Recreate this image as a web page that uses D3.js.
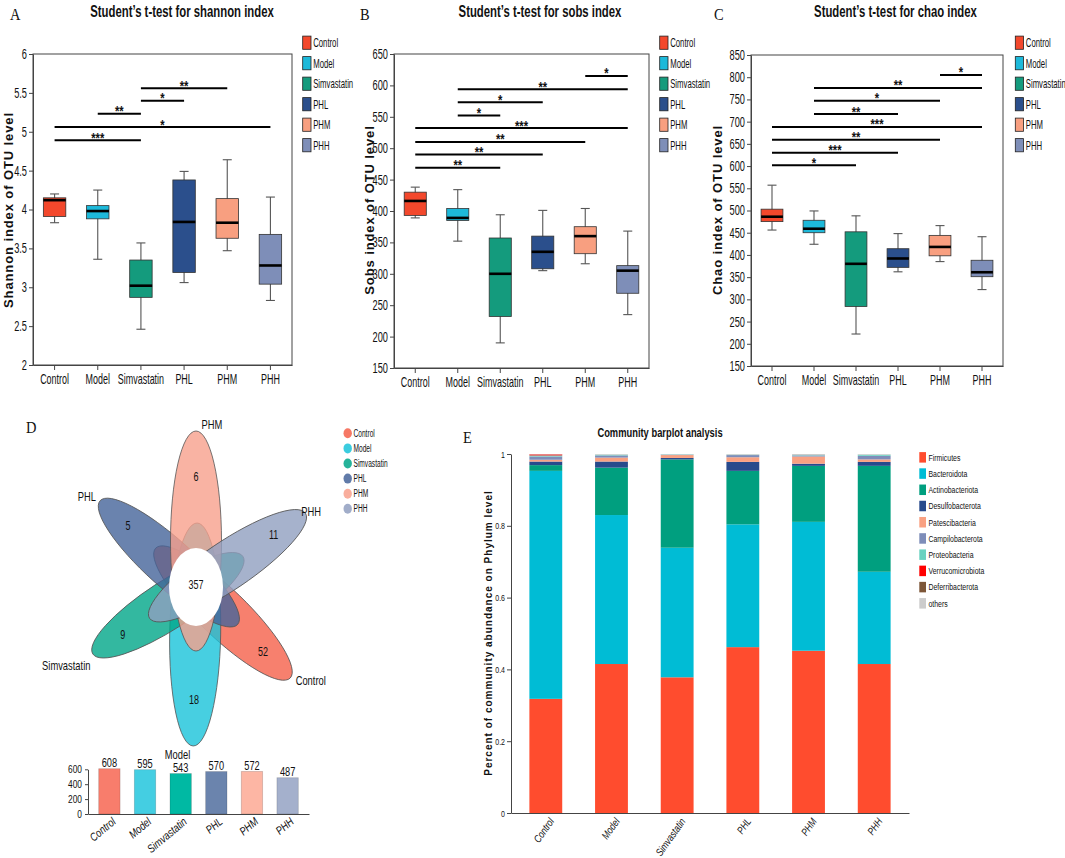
<!DOCTYPE html>
<html>
<head>
<meta charset="utf-8">
<script src="https://cdn.jsdelivr.net/npm/d3@7"></script>
<style>
  body { margin: 0; background: #fff; }
</style>
</head>
<body>
<script>
// ---- data ----
const groups = ["Control", "Model", "Simvastatin", "PHL", "PHM", "PHH"];

// box stats per group: [min, q1, median, q3, max]
const shannonStats = [
  [3.83, 3.91, 4.12, 4.15, 4.20],
  [3.36, 3.88, 3.98, 4.05, 4.25],
  [2.46, 2.87, 3.02, 3.35, 3.57],
  [3.06, 3.19, 3.84, 4.38, 4.49],
  [3.47, 3.63, 3.83, 4.14, 4.64],
  [2.83, 3.04, 3.28, 3.68, 4.16]
];
const sobsStats = [
  [389, 393, 416, 430, 438],
  [352, 385, 389, 404, 434],
  [190, 232, 300, 357, 394],
  [305, 308, 335, 360, 401],
  [316, 332, 360, 375, 404],
  [235, 269, 305, 313, 368]
];
const chaoStats = [
  [456, 475, 486, 503, 557],
  [424, 450, 459, 478, 499],
  [222, 284, 380, 452, 488],
  [362, 372, 392, 414, 448],
  [385, 398, 418, 444, 466],
  [322, 351, 361, 388, 441]
];

// significance brackets: [from group, to group, bar level, stars]
const shannonSig = [[2, 4, 5.56, "**"], [2, 3, 5.40, "*"], [1, 2, 5.23, "**"], [0, 5, 5.06, "*"], [0, 2, 4.89, "***"]];
const sobsSig = [[4, 5, 615, "*"], [1, 5, 594, "**"], [1, 3, 573, "*"], [1, 2, 552, "*"],
                 [0, 5, 532, "***"], [0, 4, 510, "**"], [0, 3, 490, "**"], [0, 2, 469, "**"]];
const chaoSig = [[4, 5, 805, "*"], [1, 5, 776, "**"], [1, 4, 747, "*"], [1, 3, 717, "**"],
                 [0, 5, 688, "***"], [0, 4, 659, "**"], [0, 3, 630, "***"], [0, 2, 602, "*"]];

const shannonTicks = [2, 2.5, 3, 3.5, 4, 4.5, 5, 5.5, 6];
const sobsTicks = [150, 200, 250, 300, 350, 400, 450, 500, 550, 600, 650];
const chaoTicks = [150, 200, 250, 300, 350, 400, 450, 500, 550, 600, 650, 700, 750, 800, 850];

// venn (order as groups)
const vennUnique = [52, 18, 9, 5, 6, 11];
const vennCore = 357;
const otuTotals = [608, 595, 543, 570, 572, 487];
const otuTicks = [0, 200, 400, 600];

// phylum level community
const phyla = ["Firmicutes", "Bacteroidota", "Actinobacteriota", "Desulfobacterota", "Patescibacteria",
               "Campilobacterota", "Proteobacteria", "Verrucomicrobiota", "Deferribacterota", "others"];
const phylumAbundance = [
  [0.318, 0.415, 0.378, 0.462, 0.452, 0.415],
  [0.635, 0.415, 0.361, 0.342, 0.359, 0.257],
  [0.016, 0.132, 0.246, 0.149, 0.156, 0.295],
  [0.010, 0.017, 0.004, 0.025, 0.006, 0.011],
  [0.005, 0.011, 0.008, 0.013, 0.020, 0.007],
  [0.009, 0.006, 0.001, 0.006, 0.003, 0.010],
  [0.003, 0.002, 0.001, 0.001, 0.001, 0.003],
  [0.003, 0.000, 0.000, 0.000, 0.000, 0.000],
  [0.000, 0.000, 0.000, 0.000, 0.000, 0.000],
  [0.001, 0.002, 0.001, 0.002, 0.003, 0.002]
];
const shareTicks = [0, 0.2, 0.4, 0.6, 0.8, 1];

// ---- styles ----
const SANS = "'Liberation Sans', Arial, sans-serif";
const SERIF = "'Liberation Serif', 'Times New Roman', serif";
const boxColors = ["#F3482C", "#1DB9DA", "#149B7D", "#2B4F8C", "#F89F80", "#7E8EB8"];
const vennColors = ["#F5604A", "#19C3D9", "#00A688", "#45649A", "#F8A08C", "#909FBF"];
const otuColors = ["#F87D6C", "#44CEE2", "#00B9A3", "#6B84AD", "#FDB6A4", "#A4B0CC"];
const phylumColors = ["#FF4C2E", "#00BCD5", "#009F7F", "#274A8C", "#F9A182",
                      "#7E8DB9", "#69D2C1", "#FF0000", "#7D5638", "#CCCCCC"];

const svg = d3.select("body").append("svg")
  .attr("width", 1065).attr("height", 858);

function txt(g, s, x, y, o) {
  o = o || {};
  let tr = `translate(${x},${y})`;
  if (o.rot) tr += ` rotate(${o.rot})`;
  tr += ` scale(${o.sx || 1},1)`;
  const t = g.append("text").text(s)
    .attr("transform", tr)
    .attr("font-family", o.ff || SANS)
    .attr("font-size", o.fs || 12)
    .attr("text-anchor", o.anchor || "start")
    .attr("fill", o.fill || "#111");
  if (o.fw) t.attr("font-weight", o.fw);
  if (o.style) t.attr("font-style", o.style);
  if (o.ls) t.attr("letter-spacing", o.ls);
  return t;
}

// squeeze axis labels horizontally like the source figure
function styleAxis(ag, fs, sx, extra) {
  ag.select(".domain").attr("stroke", "#444");
  ag.selectAll(".tick line").attr("stroke", "#444");
  ag.selectAll("text").each(function () {
    const t = d3.select(this);
    const x = +t.attr("x") || 0, y = +t.attr("y") || 0;
    t.attr("x", 0).attr("y", 0)
      .attr("transform", `translate(${x},${y}) ${extra || ""} scale(${sx},1)`);
  }).attr("font-size", fs).attr("font-family", SANS).attr("fill", "#111");
}

// ---- panels A-C ----
const boxPanels = [
  { letter: "A", title: "Student’s t-test for shannon index", ylabel: "Shannon index of OTU level",
    stats: shannonStats, sig: shannonSig, ticks: shannonTicks, x0: 33, x1: 292, y0: 54, y1: 365,
    letterX: 10, titleX: 182, labelX: 12.7, legendX: 302.7 },
  { letter: "B", title: "Student’s t-test for sobs index", ylabel: "Sobs index of OTU level",
    stats: sobsStats, sig: sobsSig, ticks: sobsTicks, x0: 394, x1: 649, y0: 54, y1: 368,
    letterX: 360, titleX: 540, labelX: 374, legendX: 659.7 },
  { letter: "C", title: "Student’s t-test for chao index", ylabel: "Chao index of OTU level",
    stats: chaoStats, sig: chaoSig, ticks: chaoTicks, x0: 751, x1: 1003, y0: 55, y1: 366,
    letterX: 714, titleX: 895.5, labelX: 722, legendX: 1015.3 }
];

boxPanels.forEach(p => {
  const g = svg.append("g");
  const x = d3.scaleBand().domain(groups).range([p.x0, p.x1]);
  const y = d3.scaleLinear().domain(d3.extent(p.ticks)).range([p.y1, p.y0]);
  const cx = i => x(groups[i]) + x.bandwidth() / 2;
  const bw = x.bandwidth() * 0.52, capW = 9;

  txt(g, p.letter, p.letterX, 20, { ff: SERIF, fs: 17, sx: 0.85 });
  txt(g, p.title, p.titleX, 16.7, { fs: 16, fw: "bold", sx: 0.71, anchor: "middle" });
  txt(g, p.ylabel, p.labelX, 210, { rot: -90, fs: 13, fw: "bold", ls: 0.9, anchor: "middle" });

  g.append("rect").attr("x", p.x0).attr("y", p.y0)
    .attr("width", p.x1 - p.x0).attr("height", p.y1 - p.y0)
    .attr("fill", "none").attr("stroke", "#444").attr("stroke-width", 1);

  const ay = g.append("g").attr("transform", `translate(${p.x0},0)`)
    .call(d3.axisLeft(y).tickValues(p.ticks).tickFormat(d => d).tickSize(4).tickPadding(2).tickSizeOuter(0));
  styleAxis(ay, 14, 0.66);
  const ax = g.append("g").attr("transform", `translate(0,${p.y1})`)
    .call(d3.axisBottom(x).tickSize(5).tickPadding(4).tickSizeOuter(0));
  styleAxis(ax, 14, 0.64);

  const boxes = g.selectAll(".bx").data(p.stats).join("g").attr("class", "bx");
  boxes.append("line")
    .attr("x1", (d, i) => cx(i)).attr("x2", (d, i) => cx(i))
    .attr("y1", d => y(d[0])).attr("y2", d => y(d[4]))
    .attr("stroke", "#555").attr("stroke-width", 1.1);
  [0, 4].forEach(k => boxes.append("line")
    .attr("x1", (d, i) => cx(i) - capW / 2).attr("x2", (d, i) => cx(i) + capW / 2)
    .attr("y1", d => y(d[k])).attr("y2", d => y(d[k]))
    .attr("stroke", "#555").attr("stroke-width", 1.1));
  boxes.append("rect")
    .attr("x", (d, i) => cx(i) - bw / 2).attr("width", bw)
    .attr("y", d => y(d[3])).attr("height", d => y(d[1]) - y(d[3]))
    .attr("fill", (d, i) => boxColors[i]).attr("stroke", "#333").attr("stroke-width", 0.8);
  boxes.append("line")
    .attr("x1", (d, i) => cx(i) - bw / 2).attr("x2", (d, i) => cx(i) + bw / 2)
    .attr("y1", d => y(d[2])).attr("y2", d => y(d[2]))
    .attr("stroke", "#000").attr("stroke-width", 2.6);

  p.sig.forEach(([a, b, v, lab]) => {
    g.append("line").attr("x1", cx(a)).attr("x2", cx(b))
      .attr("y1", y(v)).attr("y2", y(v)).attr("stroke", "#000").attr("stroke-width", 2);
    txt(g, lab, (cx(a) + cx(b)) / 2, y(v) + 2.5, { fs: 14, fw: "bold", sx: 0.8, anchor: "middle" });
  });

  groups.forEach((gr, i) => {
    const yc = 42.7 + i * 20.5;
    g.append("rect").attr("x", p.legendX).attr("y", yc - 6.6).attr("width", 8.3).attr("height", 13.2)
      .attr("fill", boxColors[i]).attr("stroke", "#222").attr("stroke-width", 0.8);
    txt(g, gr, p.legendX + 10.5, yc + 4.3, { fs: 12.5, sx: 0.62 });
  });
});

// ---- panel D: flower venn ----
const gD = svg.append("g");
txt(gD, "D", 26, 433, { ff: SERIF, fs: 17, sx: 0.85 });
const vc = [196, 587];
// petal direction (deg, screen, counter-clockwise), tip distance, half width, reach past centre
const petals = [
  { ang: -44, len: 131, b: 24, back: 56, lab: [20.5, 7] },
  { ang: -91, len: 159, b: 25.5, back: 64, lab: [-15.7, 13] },
  { ang: 213, len: 123, b: 24, back: 56, lab: [-26.6, 16] },
  { ang: 138, len: 129, b: 24, back: 56, lab: [-13.3, 0] },
  { ang: 90, len: 156, b: 25.5, back: 64, lab: [16, -2.5] },
  { ang: 34, len: 132, b: 24, back: 56, lab: [5.7, 2.5] }
];
const dir = p => [Math.cos(p.ang * Math.PI / 180), -Math.sin(p.ang * Math.PI / 180)];
gD.selectAll(".petal").data(petals).join("ellipse").attr("class", "petal")
  .attr("rx", p => (p.len + p.back) / 2).attr("ry", p => p.b)
  .attr("transform", p => {
    const a = (p.len + p.back) / 2, d = p.len - a, u = dir(p);
    return `translate(${vc[0] + d * u[0]},${vc[1] + d * u[1]}) rotate(${-p.ang})`;
  })
  .attr("fill", (p, i) => vennColors[i]).attr("fill-opacity", 0.8)
  .attr("stroke", "#555").attr("stroke-width", 0.8);
gD.append("ellipse").attr("cx", vc[0]).attr("cy", vc[1]).attr("rx", 27).attr("ry", 39).attr("fill", "#fff");
txt(gD, vennCore, vc[0], vc[1] + 2, { fs: 12.5, sx: 0.72, anchor: "middle" });
vennUnique.forEach((v, i) => {
  const p = petals[i], u = dir(p), r = p.len * 0.71;
  txt(gD, v, vc[0] + r * u[0], vc[1] + r * u[1] + 4.5, { fs: 12.5, sx: 0.72, anchor: "middle" });
  const tip = [vc[0] + p.len * u[0], vc[1] + p.len * u[1]];
  txt(gD, groups[i], tip[0] + p.lab[0], tip[1] + p.lab[1], { fs: 12, sx: 0.78, anchor: "middle" });
});
groups.forEach((gr, i) => {
  const yc = 433.3 + i * 15.1;
  gD.append("ellipse").attr("cx", 347.7).attr("cy", yc).attr("rx", 4.2).attr("ry", 5)
    .attr("fill", vennColors[i]).attr("fill-opacity", 0.85);
  txt(gD, gr, 353.5, yc + 3.5, { fs: 10, sx: 0.66 });
});

// small bar chart of OTU totals
const xD = d3.scaleBand().domain(groups).range([88, 309]).paddingInner(0.4).paddingOuter(0.3);
const yD = d3.scaleLinear().domain([0, 600]).range([814, 769.3]);
gD.selectAll(".otu").data(otuTotals).join("rect").attr("class", "otu")
  .attr("x", (d, i) => xD(groups[i])).attr("width", xD.bandwidth())
  .attr("y", d => yD(d)).attr("height", d => yD(0) - yD(d))
  .attr("fill", (d, i) => otuColors[i]).attr("stroke", "rgba(0,0,0,0.18)").attr("stroke-width", 0.8);
otuTotals.forEach((v, i) => {
  txt(gD, v, xD(groups[i]) + xD.bandwidth() / 2, yD(v) - 1.6, { fs: 12, sx: 0.77, anchor: "middle" });
});
const dyAx = gD.append("g").attr("transform", "translate(88,0)")
  .call(d3.axisLeft(yD).tickValues(otuTicks).tickSize(3).tickPadding(3).tickSizeOuter(0));
styleAxis(dyAx, 11, 0.76);
const dxAx = gD.append("g").attr("transform", "translate(0,814)")
  .call(d3.axisBottom(xD).tickSize(0).tickPadding(4).tickSizeOuter(0));
dxAx.selectAll("text").each(function () {
  const t = d3.select(this);
  t.attr("y", 0).attr("dy", "0.55em").attr("text-anchor", "end").attr("font-style", "italic")
    .attr("transform", `translate(3,4) rotate(-40) scale(0.8,1)`);
});
dxAx.select(".domain").attr("stroke", "#444");
dxAx.selectAll("text").attr("font-size", 11.5).attr("font-family", SANS).attr("fill", "#111");

// ---- panel E: stacked community barplot ----
const gE = svg.append("g");
txt(gE, "E", 463, 443, { ff: SERIF, fs: 17, sx: 0.85 });
txt(gE, "Community barplot analysis", 660, 437, { fs: 13, fw: "bold", sx: 0.72, anchor: "middle" });
txt(gE, "Percent of community abundance on Phylum level", 492, 633,
  { rot: -90, fs: 10, fw: "bold", ls: 1, anchor: "middle" });

const xE = d3.scaleBand().domain(groups).range([511, 909]).paddingInner(0.5).paddingOuter(0.28);
const yE = d3.scaleLinear().domain([0, 1]).range([813, 454]);
const rows = groups.map((gr, i) => {
  const r = { group: gr };
  phyla.forEach((ph, j) => { r[ph] = phylumAbundance[j][i]; });
  return r;
});
const stacked = d3.stack().keys(phyla)(rows);
gE.selectAll(".layer").data(stacked).join("g").attr("class", "layer")
  .attr("fill", (d, j) => phylumColors[j])
  .selectAll("rect").data(d => d).join("rect")
  .attr("x", d => xE(d.data.group)).attr("width", xE.bandwidth())
  .attr("y", d => yE(d[1])).attr("height", d => yE(d[0]) - yE(d[1]));

const eyAx = gE.append("g").attr("transform", "translate(511,0)")
  .call(d3.axisLeft(yE).tickValues(shareTicks).tickFormat(d => d).tickSize(4).tickPadding(2).tickSizeOuter(0));
styleAxis(eyAx, 9.5, 0.74);
const exAx = gE.append("g").attr("transform", "translate(0,813)")
  .call(d3.axisBottom(xE).tickSize(0).tickPadding(4).tickSizeOuter(0));
exAx.selectAll("text").each(function () {
  const t = d3.select(this);
  t.attr("y", 0).attr("dy", "0.55em").attr("text-anchor", "end").attr("font-style", "italic")
    .attr("transform", `translate(4,5) rotate(-55) scale(0.8,1)`);
});
exAx.select(".domain").attr("stroke", "#444");
exAx.selectAll("text").attr("font-size", 10.5).attr("font-family", SANS).attr("fill", "#111");

phyla.forEach((ph, j) => {
  const yc = 457.3 + j * 16.22;
  gE.append("rect").attr("x", 919.3).attr("y", yc - 5.2).attr("width", 6.7).attr("height", 10.5)
    .attr("fill", phylumColors[j]);
  txt(gE, ph, 928.5, yc + 3.4, { fs: 9.5, sx: 0.73 });
});
</script>
</body>
</html>
